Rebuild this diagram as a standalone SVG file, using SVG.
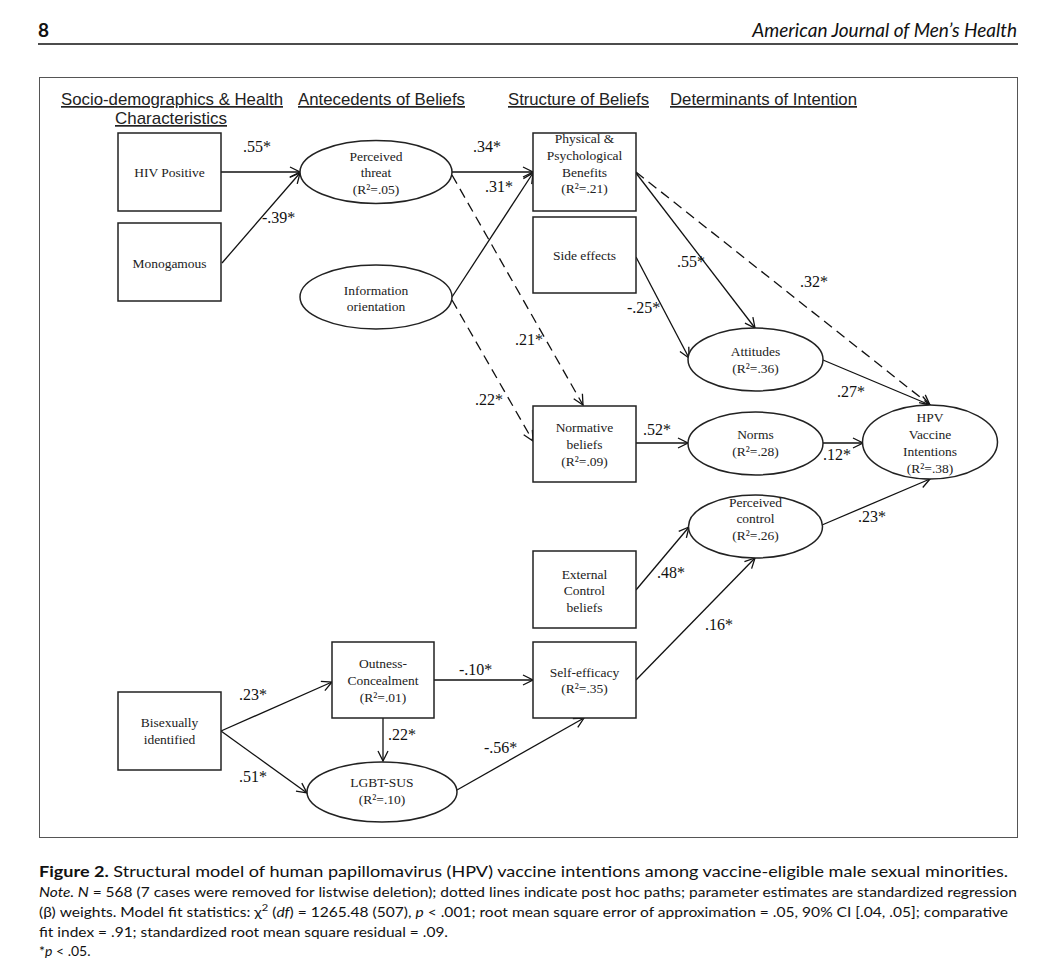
<svg xmlns="http://www.w3.org/2000/svg" width="1042" height="970" viewBox="0 0 1042 970">
<style>
.bg{fill:#fff}
.frame{fill:none;stroke:#555;stroke-width:1}
.box{fill:#fff;stroke:#222;stroke-width:1.5}
.ell{fill:#fff;stroke:#222;stroke-width:1.5}
.nt{font-family:"Liberation Serif","Times New Roman",serif;font-size:13.5px;fill:#222;text-anchor:middle}
.lbl{font-family:"Liberation Serif","Times New Roman",serif;font-size:16px;fill:#111}
.hd{font-family:"Liberation Sans",Arial,sans-serif;font-size:17px;fill:#222;text-decoration:underline}
.e{fill:none;stroke:#111;stroke-width:1.3;marker-end:url(#ah)}
.d{stroke-dasharray:10,6}
.cap{font-family:Lato,"Open Sans",sans-serif;fill:#111}
</style>
<defs>
<marker id="ah" viewBox="0 0 12 12" refX="11" refY="6" markerWidth="12" markerHeight="12" markerUnits="userSpaceOnUse" orient="auto">
<path d="M1,1 L11,6 L1,11" fill="none" stroke="#111" stroke-width="1.3"/>
</marker>
</defs>
<rect class="bg" x="0" y="0" width="1042" height="970"/>
<g id="header">
<text x="38" y="37" font-family="Lato,'Open Sans',sans-serif" font-size="19" font-weight="bold" fill="#111">8</text>
<text x="1017" y="37" font-family="Lato,'Open Sans',sans-serif" font-size="19" font-style="italic" fill="#111" text-anchor="end">American Journal of Men’s Health</text>
<line x1="38" y1="44" x2="1018" y2="44" stroke="#111" stroke-width="1.5"/>
</g>
<rect class="frame" x="39.5" y="77.5" width="978" height="760"/>
<g id="headings">
<text class="hd" x="61" y="105" textLength="222" lengthAdjust="spacingAndGlyphs">Socio-demographics &amp; Health</text>
<text class="hd" x="115" y="124" textLength="112" lengthAdjust="spacingAndGlyphs">Characteristics</text>
<text class="hd" x="298" y="105" textLength="167" lengthAdjust="spacingAndGlyphs">Antecedents of Beliefs</text>
<text class="hd" x="508" y="105" textLength="141" lengthAdjust="spacingAndGlyphs">Structure of Beliefs</text>
<text class="hd" x="670" y="105" textLength="187" lengthAdjust="spacingAndGlyphs">Determinants of Intention</text>
</g>
<g id="connectors">
<path class="e" d="M221,172 L300,172"/>
<path class="e" d="M222,263 L300,173"/>
<path class="e" d="M452,172 L533,172"/>
<path class="e" d="M452,297 L533,173"/>
<path class="e d" d="M452,175 L583,405"/>
<path class="e d" d="M452,300 L533,441"/>
<path class="e" d="M636,173 L755,328"/>
<path class="e d" d="M636,172 L930,405"/>
<path class="e" d="M636,257 L689,358"/>
<path class="e" d="M823,360 L930,405"/>
<path class="e" d="M636,443 L688,443"/>
<path class="e" d="M823,443 L863,443"/>
<path class="e" d="M822,525 L930,479"/>
<path class="e" d="M636,590 L689,527"/>
<path class="e" d="M636,680 L755,558"/>
<path class="e" d="M221,731 L332,682"/>
<path class="e" d="M221,731 L307,793"/>
<path class="e" d="M383,718 L383,761"/>
<path class="e" d="M434,680 L533,680"/>
<path class="e" d="M457,790 L584,718"/>
</g>
<g id="edge-labels">
<text class="lbl" x="243" y="152">.55*</text>
<text class="lbl" x="262" y="223">-.39*</text>
<text class="lbl" x="473" y="152">.34*</text>
<text class="lbl" x="485" y="192">.31*</text>
<text class="lbl" x="515" y="345">.21*</text>
<text class="lbl" x="475" y="405">.22*</text>
<text class="lbl" x="677" y="267">.55*</text>
<text class="lbl" x="800" y="287">.32*</text>
<text class="lbl" x="627" y="313">-.25*</text>
<text class="lbl" x="837" y="397">.27*</text>
<text class="lbl" x="643" y="435">.52*</text>
<text class="lbl" x="823" y="460">.12*</text>
<text class="lbl" x="858" y="522">.23*</text>
<text class="lbl" x="657" y="578">.48*</text>
<text class="lbl" x="705" y="630">.16*</text>
<text class="lbl" x="239" y="700">.23*</text>
<text class="lbl" x="239" y="782">.51*</text>
<text class="lbl" x="388" y="740">.22*</text>
<text class="lbl" x="459" y="675">-.10*</text>
<text class="lbl" x="484" y="753">-.56*</text>
</g>
<g id="hiv-positive">
<rect class="box" x="118" y="133" width="103" height="78"/>
<text class="nt" x="169.5" y="177">HIV Positive</text>
</g>
<g id="monogamous">
<rect class="box" x="118" y="223" width="103" height="78"/>
<text class="nt" x="169.5" y="268">Monogamous</text>
</g>
<g id="perceived-threat">
<ellipse class="ell" cx="376" cy="172" rx="76" ry="31.5"/>
<text class="nt" x="376" y="161">Perceived</text>
<text class="nt" x="376" y="177">threat</text>
<text class="nt" x="376" y="194">(R²=.05)</text>
</g>
<g id="information-orientation">
<ellipse class="ell" cx="376" cy="297" rx="76" ry="32"/>
<text class="nt" x="376" y="295">Information</text>
<text class="nt" x="376" y="311">orientation</text>
</g>
<g id="benefits">
<rect class="box" x="533" y="133" width="103" height="78"/>
<text class="nt" x="584.5" y="143">Physical &amp;</text>
<text class="nt" x="584.5" y="160">Psychological</text>
<text class="nt" x="584.5" y="177">Benefits</text>
<text class="nt" x="584.5" y="193">(R²=.21)</text>
</g>
<g id="side-effects">
<rect class="box" x="533" y="217" width="103" height="76"/>
<text class="nt" x="584.5" y="260">Side effects</text>
</g>
<g id="attitudes">
<ellipse class="ell" cx="755.5" cy="359.5" rx="67.5" ry="31.5"/>
<text class="nt" x="755.5" y="356">Attitudes</text>
<text class="nt" x="755.5" y="373">(R²=.36)</text>
</g>
<g id="normative-beliefs">
<rect class="box" x="533" y="406" width="103" height="76"/>
<text class="nt" x="584.5" y="432">Normative</text>
<text class="nt" x="584.5" y="449">beliefs</text>
<text class="nt" x="584.5" y="466">(R²=.09)</text>
</g>
<g id="norms">
<ellipse class="ell" cx="755.5" cy="443.5" rx="67.5" ry="31.5"/>
<text class="nt" x="755.5" y="439">Norms</text>
<text class="nt" x="755.5" y="456">(R²=.28)</text>
</g>
<g id="hpv-intentions">
<ellipse class="ell" cx="930" cy="442" rx="67.5" ry="37"/>
<text class="nt" x="930" y="422">HPV</text>
<text class="nt" x="930" y="439">Vaccine</text>
<text class="nt" x="930" y="456">Intentions</text>
<text class="nt" x="930" y="473">(R²=.38)</text>
</g>
<g id="perceived-control">
<ellipse class="ell" cx="755.5" cy="526.5" rx="67" ry="31.5"/>
<text class="nt" x="755.5" y="507">Perceived</text>
<text class="nt" x="755.5" y="523">control</text>
<text class="nt" x="755.5" y="540">(R²=.26)</text>
</g>
<g id="external-control">
<rect class="box" x="533" y="551" width="103" height="77"/>
<text class="nt" x="584.5" y="579">External</text>
<text class="nt" x="584.5" y="595">Control</text>
<text class="nt" x="584.5" y="612">beliefs</text>
</g>
<g id="self-efficacy">
<rect class="box" x="533" y="642" width="103" height="76"/>
<text class="nt" x="584.5" y="677">Self-efficacy</text>
<text class="nt" x="584.5" y="693">(R²=.35)</text>
</g>
<g id="outness-concealment">
<rect class="box" x="332" y="642" width="102" height="76"/>
<text class="nt" x="383" y="668">Outness-</text>
<text class="nt" x="383" y="685">Concealment</text>
<text class="nt" x="383" y="702">(R²=.01)</text>
</g>
<g id="bisexually-identified">
<rect class="box" x="118" y="692" width="103" height="78"/>
<text class="nt" x="169.5" y="727">Bisexually</text>
<text class="nt" x="169.5" y="744">identified</text>
</g>
<g id="lgbt-sus">
<ellipse class="ell" cx="382" cy="792" rx="75" ry="30"/>
<text class="nt" x="382" y="787">LGBT-SUS</text>
<text class="nt" x="382" y="804">(R²=.10)</text>
</g>
<g id="caption">
<text class="cap" x="39" y="877" font-size="16" textLength="969" lengthAdjust="spacingAndGlyphs"><tspan font-weight="bold">Figure 2.</tspan> Structural model of human papillomavirus (HPV) vaccine intentions among vaccine-eligible male sexual minorities.</text>
<text class="cap" x="39" y="897" font-size="14" textLength="978" lengthAdjust="spacingAndGlyphs"><tspan font-style="italic">Note. N</tspan> = 568 (7 cases were removed for listwise deletion); dotted lines indicate post hoc paths; parameter estimates are standardized regression</text>
<text class="cap" x="39" y="917" font-size="14" textLength="969" lengthAdjust="spacingAndGlyphs">(β) weights. Model fit statistics: χ<tspan dy="-6" font-size="10">2</tspan><tspan dy="6"> (</tspan><tspan font-style="italic">df</tspan>) = 1265.48 (507), <tspan font-style="italic">p</tspan> &lt; .001; root mean square error of approximation = .05, 90% CI [.04, .05]; comparative</text>
<text class="cap" x="39" y="937" font-size="14" textLength="409" lengthAdjust="spacingAndGlyphs">fit index = .91; standardized root mean square residual = .09.</text>
<text class="cap" x="39" y="956" font-size="14">*<tspan font-style="italic">p</tspan> &lt; .05.</text>
</g>
</svg>
